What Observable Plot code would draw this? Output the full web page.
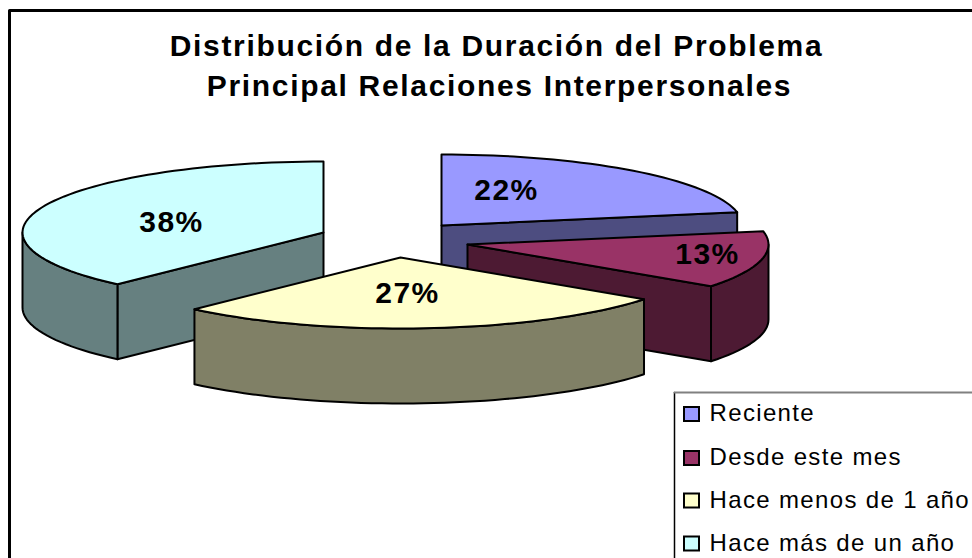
<!DOCTYPE html>
<html><head><meta charset="utf-8">
<script src="https://cdn.jsdelivr.net/npm/d3@7"></script>
<script src="https://cdn.jsdelivr.net/npm/@observablehq/plot@0.6"></script>
<style>html,body{margin:0;padding:0;background:#fff;overflow:hidden}svg{display:block}
.t-title text{letter-spacing:1.67px}
.t-pct text{letter-spacing:1.5px}
.t-leg text{letter-spacing:1.35px}
</style>
</head><body><div id="chart"></div>
<script>
const titleLines = ["Distribución de la Duración del Problema", "Principal Relaciones Interpersonales"];
const categories = ["Reciente", "Desde este mes", "Hace menos de 1 año", "Hace más de un año"];
const shares = [22, 13, 27, 38];
const topColors = ["#9999FF", "#993366", "#FFFFCC", "#CCFFFF"];
const wallColors = ["#4D4D80", "#4D1A33", "#808066", "#668080"];

// Layout of the exploded 3D pie (image pixels)
const apexX = [441, 467, 400, 323];
const apexY = [225, 244, 257, 232];
const labelX = [506, 707, 407, 171];
const labelY = [190, 254, 293, 222];
const rx = 301, ry = 71, depth = 75;

const rad = d => d * Math.PI / 180;
const starts = [];
shares.reduce((a, v, i) => (starts[i] = a, a + v), 0);
const pt = (i, deg, drop = 0) => ({
  x: apexX[i] + rx * Math.sin(rad(deg)),
  y: apexY[i] - ry * Math.cos(rad(deg)) + drop
});
const apex = (i, drop = 0) => ({x: apexX[i], y: apexY[i] + drop});
const arc = (i, a, b, drop = 0) => {
  const out = [], n = Math.max(1, Math.ceil(Math.abs(b - a) / 2));
  for (let k = 0; k <= n; ++k) out.push(pt(i, a + (b - a) * k / n, drop));
  return out;
};
const close = p => [...p, p[0]];
const poly = (p, fill) => Plot.line(close(p), {x: "x", y: "y", fill, stroke: "#000", strokeWidth: 2, strokeLinejoin: "round", curve: "linear"});

const sliceMarks = i => {
  const a = starts[i] * 3.6, b = (starts[i] + shares[i]) * 3.6;
  const marks = [];
  // straight cut faces
  if (i === 0 || i === 1) marks.push(poly([apex(i), pt(i, b), pt(i, b, depth), apex(i, depth)], wallColors[i]));
  if (i === 3) marks.push(poly([apex(i), pt(i, a), pt(i, a, depth), apex(i, depth)], wallColors[i]));
  // curved outer wall (front half only)
  const wa = Math.max(a, 90), wb = Math.min(b, 270);
  if (wb > wa) marks.push(poly([...arc(i, wa, wb), ...arc(i, wb, wa, depth)], wallColors[i]));
  // top surface
  marks.push(poly([apex(i), ...arc(i, a, b)], topColors[i]));
  return marks;
};

const legendY = [414, 458, 500.5, 543.5];
const legendRows = categories.map((name, i) => ({name, y: legendY[i], color: topColors[i]}));
const share = shares.map((v, i) => ({t: v + "%", x: labelX[i], y: labelY[i]}));

const chart = Plot.plot({
  width: 972, height: 558,
  margin: 0,
  style: {background: "#fff"},
  x: {domain: [0, 972], range: [0, 972], axis: null},
  y: {domain: [0, 558], range: [0, 558], axis: null},
  marks: [
    // outer chart frame
    Plot.line([{x: 9, y: 558}, {x: 9, y: 10}, {x: 972, y: 10}], {x: "x", y: "y", stroke: "#000", strokeWidth: 3}),
    // slices, back to front
    ...[0, 1, 3, 2].flatMap(sliceMarks),
    // percent labels
    Plot.text(share, {x: "x", y: "y", text: "t", className: "t-pct", fontFamily: "Liberation Sans", fontWeight: "bold", fontSize: 30, fill: "#000"}),
    // title
    Plot.text([titleLines[0]], {x: () => 496, y: () => 46, text: d => d, className: "t-title", fontFamily: "Liberation Sans", fontWeight: "bold", fontSize: 30, fill: "#000"}),
    Plot.text([titleLines[1]], {x: () => 499, y: () => 86, text: d => d, className: "t-title", fontFamily: "Liberation Sans", fontWeight: "bold", fontSize: 30, fill: "#000"}),
    // legend
    Plot.line([{x: 674, y: 558}, {x: 674, y: 392}], {x: "x", y: "y", stroke: "#000", strokeWidth: 1.5}),
    Plot.line([{x: 674, y: 392}, {x: 972, y: 392}], {x: "x", y: "y", stroke: "#808080", strokeWidth: 2}),
    Plot.rect(legendRows, {x1: () => 684, x2: () => 699, y1: d => d.y - 7, y2: d => d.y + 7, fill: "color", stroke: "#000", strokeWidth: 2}),
    Plot.text(legendRows, {x: () => 709, y: d => d.y - 0.7, text: "name", className: "t-leg", textAnchor: "start", fontFamily: "Liberation Sans", fontSize: 24, fill: "#000"})
  ],
  color: {type: "identity"}
});
document.getElementById("chart").append(chart);
</script></body></html>
